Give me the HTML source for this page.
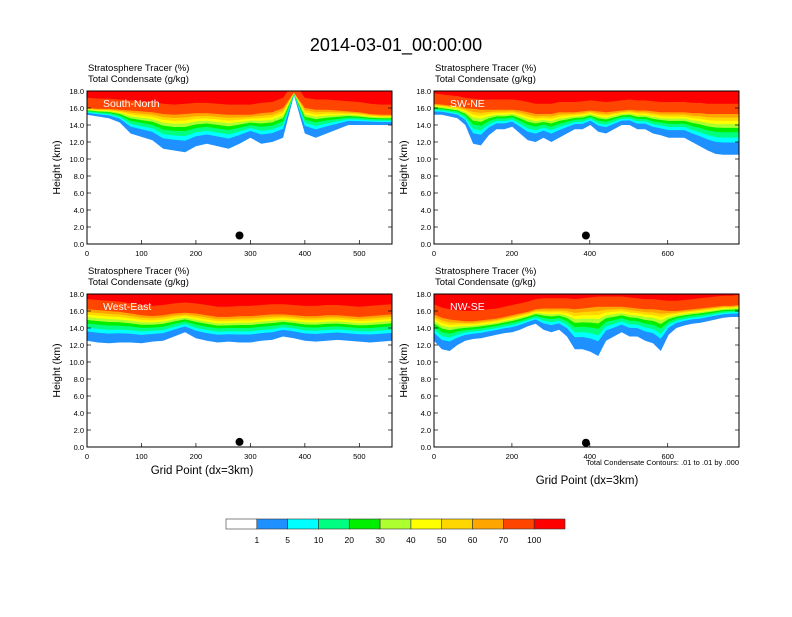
<!DOCTYPE html>
<html><head><meta charset="utf-8"><style>
body{margin:0;background:#fff;font-family:"Liberation Sans",sans-serif}
svg text{font-family:"Liberation Sans",sans-serif}
</style></head><body>
<svg id="c" width="792" height="612" viewBox="0 0 792 612" xmlns="http://www.w3.org/2000/svg">
<text x="396" y="51" font-size="18" text-anchor="middle">2014-03-01_00:00:00</text>
<g id="panels"></g>
<text x="202" y="474" font-size="11.5" text-anchor="middle">Grid Point (dx=3km)</text>
<text x="587" y="484" font-size="11.5" text-anchor="middle">Grid Point (dx=3km)</text>
<text x="739" y="465" font-size="7.5" text-anchor="end">Total Condensate Contours: .01 to .01 by .000</text>
<g id="cbar"></g>
</svg>
<script>
const NS="http://www.w3.org/2000/svg";
const colors=["#ffffff","#1e90ff","#00ffff","#00ff80","#00ee00","#adff2f","#ffff00","#ffd700","#ffa500","#ff4500","#ff0000"];
const cbarLabels=["1","5","10","20","30","40","50","60","70","100"];
const fracs=[0,0.3,0.42,0.55,0.66,0.75,0.83,0.91,1.0];
const panelNames=["South-North","SW-NE","West-East","NW-SE"];
const xMaxes=[560,783,560,783];
const xTicks1=[0,100,200,300,400,500];
const xTicks2=[0,200,400,600];
const yTicks=[0,2,4,6,8,10,12,14,16,18];
const base1=[15.2,15.0,14.8,14.3,13.0,12.6,12.2,11.2,11.0,10.8,11.5,11.8,11.5,11.2,11.8,12.5,11.8,12.0,12.5,17.5,13.0,12.5,13.0,13.5,14.0,14.0,14.0,14.0,14.0];
const top1=[16.0,15.9,15.9,15.8,15.7,15.6,15.5,15.3,15.2,15.3,15.4,15.4,15.3,15.2,15.2,15.2,15.4,15.5,16.0,17.8,16.0,15.8,15.8,15.7,15.6,15.5,15.3,15.2,15.2];
const base2=[15.2,15.2,15.0,14.8,14.0,11.8,11.6,12.8,13.5,13.5,13.8,13.0,12.2,12.0,12.5,12.0,12.5,13.0,13.5,13.5,14.0,13.2,13.0,13.5,14.0,14.0,13.5,13.5,13.0,12.8,12.5,12.5,12.5,12.0,11.5,11.0,10.6,10.5,10.5,10.5];
const top2=[16.5,16.4,16.3,16.2,16.0,15.9,15.8,15.8,15.8,15.8,15.8,15.7,15.5,15.3,15.3,15.3,15.5,15.5,15.5,15.6,15.7,15.6,15.5,15.6,15.7,15.8,15.7,15.7,15.6,15.5,15.5,15.5,15.5,15.4,15.4,15.3,15.3,15.3,15.3,15.3];
const base3=[12.5,12.3,12.2,12.3,12.3,12.2,12.4,12.5,13.0,13.5,12.8,12.5,12.3,12.4,12.3,12.3,12.5,12.6,13.0,12.8,12.5,12.4,12.5,12.6,12.5,12.4,12.3,12.4,12.5];
const top3=[16.2,16.1,16.0,15.9,15.7,15.5,15.4,15.5,15.7,15.8,15.7,15.5,15.3,15.3,15.4,15.4,15.5,15.6,15.6,15.5,15.4,15.4,15.5,15.5,15.4,15.3,15.4,15.5,15.6];
const base4=[12.5,11.5,11.3,12.0,12.5,12.7,12.8,13.0,13.2,13.4,13.5,13.8,14.2,14.5,13.8,13.5,13.8,13.0,11.5,11.5,11.2,10.7,12.5,13.0,13.5,13.0,13.0,12.5,12.2,11.3,13.2,14.0,14.3,14.5,14.6,14.8,15.0,15.2,15.3,15.3];
const top4=[15.6,15.2,15.0,14.9,14.8,14.8,14.9,15.0,15.1,15.3,15.5,15.7,15.9,16.2,16.3,16.3,16.3,16.3,16.2,16.3,16.4,16.5,16.5,16.5,16.5,16.4,16.3,16.2,16.2,16.1,16.0,16.0,16.1,16.2,16.3,16.4,16.5,16.6,16.6,16.7];
const bases=[base1,base2,base3,base4];
const tops=[top1,top2,top3,top4];
const dotX=[280,390,280,390];
const dotY=[1.0,1.0,0.6,0.5];
const boxes=[[87,91],[434,91],[87,294],[434,294]];
const W=305,H=153;
const g=document.getElementById('panels');
function el(t,a,p){const e=document.createElementNS(NS,t);for(const k in a)e.setAttribute(k,a[k]);(p||g).appendChild(e);return e;}
for(let p=0;p<4;p++){
  const [x0,y0]=boxes[p];
  const xm=xMaxes[p];
  const sx=v=>x0+v/xm*W, sy=v=>y0+H-v/18*H;
  const grp=el('g',{});
  
  
  const clip=el('clipPath',{id:'cl'+p},grp);el('rect',{x:x0,y:y0,width:W,height:H},clip);
  const cg=el('g',{'clip-path':'url(#cl'+p+')'},grp);
  const b=bases[p],t=tops[p],n=b.length,step=xm/(n-1);
  for(let k=0;k<fracs.length;k++){
    let d='M'+sx(0)+','+sy(18.5);
    for(let i=0;i<n;i++){const tt=Math.max(t[i],b[i]);d+=' L'+sx(i*step)+','+sy(b[i]+(tt-b[i])*fracs[k]);}
    d+=' L'+sx(xm)+','+sy(18.5)+'Z';
    const path=el('path',{d:d,fill:colors[k+1]},cg);
    
    
  }
  let d='M'+sx(0)+','+sy(18.5);
  for(let i=0;i<n;i++){d+=' L'+sx(i*step)+','+sy(Math.max(t[i],b[i])+1.2);}
  d+=' L'+sx(xm)+','+sy(18.5)+'Z';
  const red=el('path',{d:d,fill:colors[10]},cg);
  
  
  const dot=el('circle',{cx:sx(dotX[p]),cy:sy(dotY[p]),r:4,fill:'#000'},grp);
  
  
  el('rect',{x:x0,y:y0,width:W,height:H,fill:'none',stroke:'#000','stroke-width':1},grp);
  const lab=el('text',{x:x0+16,y:y0+16,'font-size':10.5,fill:'#fff'},grp);lab.textContent=panelNames[p];
  
  
  const s1=el('text',{x:x0+1,y:y0-20,'font-size':9.5},grp);s1.textContent='Stratosphere Tracer   (%)';
  
  
  const s2=el('text',{x:x0+1,y:y0-9,'font-size':9.5},grp);s2.textContent='Total Condensate   (g/kg)';
  
  
  for(const v of yTicks){
    el('line',{x1:x0,x2:x0+4,y1:sy(v),y2:sy(v),stroke:'#000','stroke-width':0.7},grp);
    el('line',{x1:x0+W,x2:x0+W-4,y1:sy(v),y2:sy(v),stroke:'#000','stroke-width':0.7},grp);
    const tx=el('text',{x:x0-3,y:sy(v)+3,'font-size':7.5,'text-anchor':'end'},grp);tx.textContent=v.toFixed(1);
    
    
  }
  const xt=xm>600?xTicks2:xTicks1;
  for(const v of xt){
    el('line',{x1:sx(v),x2:sx(v),y1:y0+H,y2:y0+H-4,stroke:'#000','stroke-width':0.7},grp);
    const tx=el('text',{x:sx(v),y:y0+H+12,'font-size':7.5,'text-anchor':'middle'},grp);tx.textContent=v;
    
    
  }
  const yl=el('text',{x:0,y:0,'font-size':10.5,'text-anchor':'middle',transform:'translate('+(x0-27)+','+(y0+H/2)+') rotate(-90)'},grp);
  yl.textContent='Height (km)';
  
  
}
const cb=document.getElementById('cbar');
const bw=339/11;
for(let i=0;i<11;i++){
  const r=el('rect',{x:226+i*bw,y:519,width:bw,height:10,fill:colors[i],stroke:'#333','stroke-width':0.6},cb);
  
  
}
for(let i=0;i<cbarLabels.length;i++){
  const t=el('text',{x:226+(i+1)*bw,y:543,'font-size':8.5,'text-anchor':'middle'},cb);t.textContent=cbarLabels[i];
  
  
}
</script>
</body></html>
